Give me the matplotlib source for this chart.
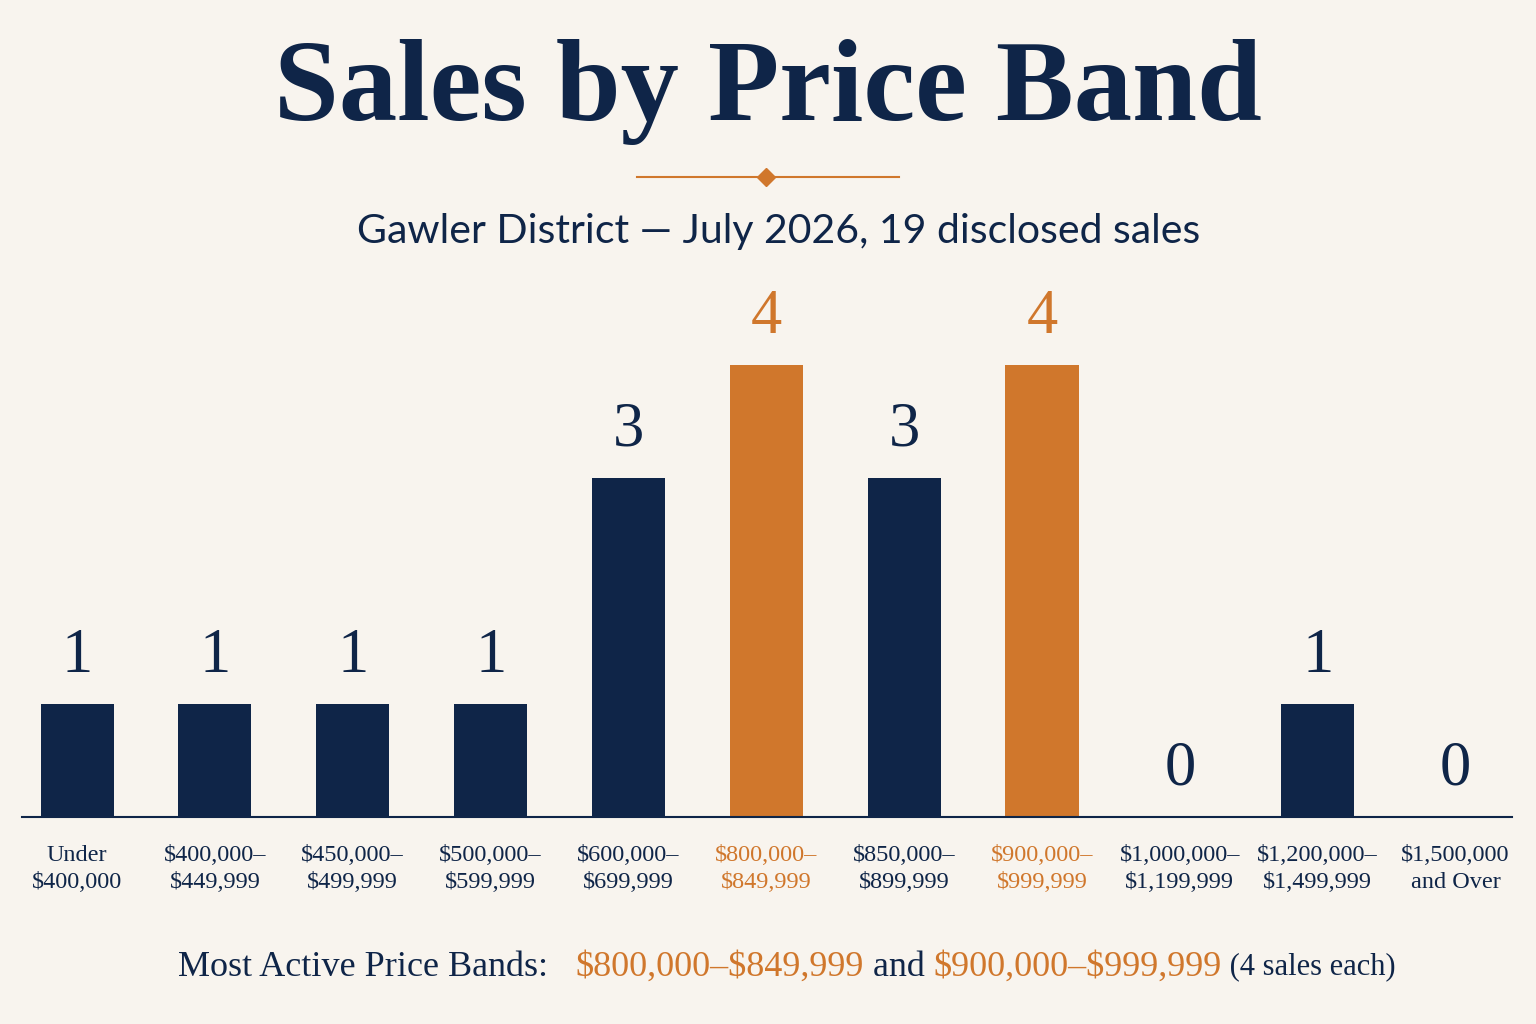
import matplotlib
matplotlib.use("Agg")
import matplotlib.pyplot as plt

plt.rcParams["text.parse_math"] = False

# data
bands_top = ["Under", "$400,000–", "$450,000–", "$500,000–", "$600,000–", "$800,000–",
             "$850,000–", "$900,000–", "$1,000,000–", "$1,200,000–", "$1,500,000"]
bands_bottom = ["$400,000", "$449,999", "$499,999", "$599,999", "$699,999", "$849,999",
                "$899,999", "$999,999", "$1,199,999", "$1,499,999", "and Over"]
sales = [1, 1, 1, 1, 3, 4, 3, 4, 0, 1, 0]
highlight = [False, False, False, False, False, True, False, True, False, False, False]

NAVY = "#0f2548"
ORANGE = "#d0772c"
BG = "#f8f4ee"
SERIF = ["Liberation Serif", "DejaVu Serif"]

fig = plt.figure(figsize=(15.36, 10.24), dpi=100, facecolor=BG)
ax = fig.add_axes([22 / 1536, 1 - 817 / 1024, 1490 / 1536, 452 / 1024])
ax.set_facecolor(BG)

x = list(range(len(sales)))
colors = [ORANGE if h else NAVY for h in highlight]
ax.bar(x, sales, width=0.53, color=colors, zorder=2)
ax.set_xlim(-0.4, 10.41)
ax.set_ylim(0, 4)

for xi, v, c in zip(x, sales, colors):
    ax.annotate(str(v), (xi, v), xytext=(0, 13), textcoords="offset points",
                ha="center", va="bottom", fontsize=45, color=c, family=SERIF)

for s in ["top", "right", "left"]:
    ax.spines[s].set_visible(False)
ax.spines["bottom"].set_color(NAVY)
ax.spines["bottom"].set_linewidth(1.5)
ax.set_yticks([])
ax.set_xticks(x)
ax.set_xticklabels([f"{a}\n{b}" for a, b in zip(bands_top, bands_bottom)],
                   fontsize=17.5, family=SERIF, linespacing=1.4)
ax.tick_params(axis="x", length=0, pad=20)
for lbl, c in zip(ax.get_xticklabels(), colors):
    lbl.set_color(c)

# title block
fig.text(0.5, 1 - 92 / 1024, "Sales by Price Band", ha="center", va="center",
         fontsize=84, fontweight="bold", color=NAVY, family=SERIF)
ly = 1 - 177 / 1024
fig.add_artist(plt.Line2D([637 / 1536, 899 / 1536], [ly, ly], color=ORANGE, lw=1.5))
fig.add_artist(plt.Line2D([766 / 1536], [ly], marker="D", markersize=9, color=ORANGE))
fig.text(779 / 1536, 1 - 231 / 1024, "Gawler District — July 2026, 19 disclosed sales",
         ha="center", va="center", fontsize=29.5, color=NAVY, family=["Lato", "DejaVu Sans"])

# footer made of coloured pieces
pieces = [("Most Active Price Bands:   ", NAVY, 26), ("$800,000–$849,999", ORANGE, 26),
          (" and ", NAVY, 26), ("$900,000–$999,999", ORANGE, 26),
          (" (4 sales each)", NAVY, 22)]
renderer = fig.canvas.get_renderer()
fy = 1 - 963 / 1024
texts = []
for s, c, fs in pieces:
    t = fig.text(0, fy, s, ha="left", va="center_baseline", fontsize=fs, color=c, family=SERIF)
    texts.append(t)
widths = [t.get_window_extent(renderer).width / fig.bbox.width for t in texts]
xpos = 787 / 1536 - sum(widths) / 2
for t, w in zip(texts, widths):
    t.set_x(xpos)
    xpos += w

fig.savefig("out.png", dpi=100, facecolor=BG)
